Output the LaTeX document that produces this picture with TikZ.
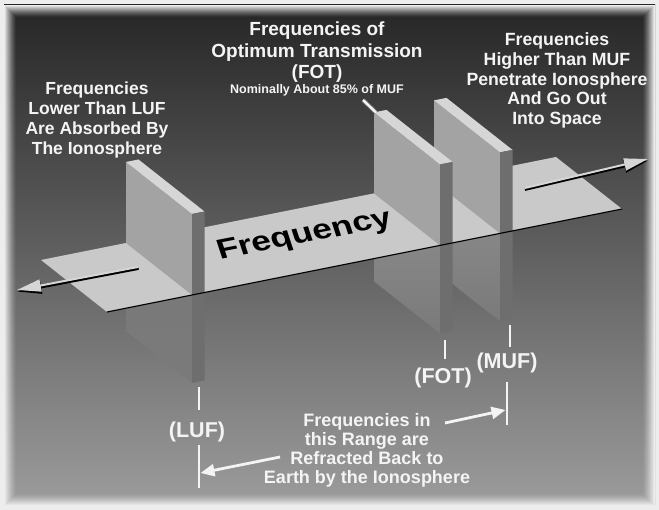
\documentclass[tikz,border=0pt]{standalone}
\usepackage{fontspec}
\setmainfont{Liberation Sans}
\usetikzlibrary{arrows.meta,calc}
\definecolor{outerc}{HTML}{EDEDED}
\definecolor{bgtop}{HTML}{262626}
\definecolor{bgmid}{HTML}{555555}
\definecolor{bgbot}{HTML}{9C9C9C}
\definecolor{floorc}{HTML}{C9C9C9}
\definecolor{facec}{HTML}{A3A3A3}
\definecolor{topc}{HTML}{D6D6D6}
\definecolor{stripc}{HTML}{6E6E6E}
\definecolor{lowtop}{HTML}{8E8E8E}
\definecolor{lowbot}{HTML}{7A7A7A}
\definecolor{txt}{HTML}{F4F4F4}
\tikzset{
  lbl/.style={text=txt, align=center, inner sep=0pt},
  leader/.style={draw=txt, line width=2.8pt},
  leadarrow/.style={leader, -{Triangle[length=14pt,width=12pt]}},
  wallface/.style={fill=facec},
  walltop/.style={fill=topc},
  wallstrip/.style={fill=stripc},
  lowface/.style={top color=lowtop, bottom color=lowbot},
}
\newcommand\wallpts[2]{%
  \pgfmathsetmacro\wpy{312-0.2*(#2-107)}%
  \coordinate (#1P) at (#2,\wpy);
  \coordinate (#1TF) at (#2,\wpy-81);
  \coordinate (#1TB) at (#2-66,\wpy-133);
  \coordinate (#1BB) at (#2-66,\wpy-52);
  \coordinate (#1LB) at (#2-66,\wpy+36);
  \coordinate (#1LF) at (#2,\wpy+88);
  \coordinate (#1TFw) at (#2+12.5,\wpy-83.5);
  \coordinate (#1TBw) at (#2-53.5,\wpy-135.5);
  \coordinate (#1LFw) at (#2+12.5,\wpy+85.5);
}
\newcommand\wallupper[1]{%
  \fill[wallface] (#1TB) -- (#1TF) -- (#1P) -- (#1BB) -- cycle;
  \fill[walltop] (#1TB) -- (#1TF) -- (#1TFw) -- (#1TBw) -- cycle;
  \fill[wallstrip] (#1TF) -- (#1TFw) -- (#1LFw) -- (#1LF) -- cycle;
}
\begin{document}
\begin{tikzpicture}[x=1pt,y=-1pt]
\useasboundingbox (0,0) rectangle (659,510);
\fill[outerc] (0,0) rectangle (659,510);
\shade[top color=bgtop, middle color=bgmid, bottom color=bgbot] (4,5) rectangle (655,506);
\foreach \k in {0,...,11} {
  \pgfmathsetmacro\op{(1-\k/12)^1.3}
  \draw[outerc, opacity=\op, line width=1pt] (4.5+\k,5.5+\k) rectangle (654.5-\k,505.5-\k);
}
% walls geometry
\wallpts{luf}{192}
\wallpts{fot}{440}
\wallpts{muf}{500}
% parts below the floor
\shade[lowface] (mufBB) -- (mufP) -- (mufLF) -- (mufLB) -- cycle;
\shade[lowface] (fotBB) -- (fotP) -- (fotLF) -- (fotLB) -- cycle;
\shade[top color=lowtop!85!black, bottom color=lowbot] (lufBB) -- (lufP) -- (lufLF) -- (lufLB) -- cycle;
% floor
\coordinate (flBL) at (41,260);
\coordinate (flBR) at (556,157);
\coordinate (flFR) at (622,209);
\coordinate (flFL) at (107,312);
\fill[floorc] (flBL) -- (flBR) -- (flFR) -- (flFL) -- cycle;
% walls above floor
\wallupper{muf}
\wallupper{fot}
\wallupper{luf}
\draw[black, line width=1.1pt] (flFL) -- (flFR);
% floor text
\node[font=\bfseries\fontsize{35}{35}\selectfont, rotate=11, yscale=0.8, xslant=-0.1, inner sep=0pt] (freq) at (305,236) {Frequency};
% floor arrows
\coordinate (la1) at (138,267); \coordinate (la2) at (17,290);
\draw[black, line width=2.6pt, -{Triangle[length=24pt,width=13pt]}] ($(la1)+(0.6,1.6)$) -- ($(la2)+(0.6,1.6)$);
\draw[topc, line width=2pt, -{Triangle[length=24pt,width=12pt]}] (la1) -- (la2);
\coordinate (ra1) at (525,188); \coordinate (ra2) at (648,159);
\draw[black, line width=2.6pt, -{Triangle[length=24pt,width=13pt]}] ($(ra1)+(0,1.6)$) -- ($(ra2)+(0,1.6)$);
\draw[topc, line width=2pt, -{Triangle[length=24pt,width=12pt]}] (ra1) -- (ra2);
% top labels
\node[lbl, anchor=north, font=\bfseries\fontsize{17.5}{20}\selectfont] (lownote) at (97,81.5) {Frequencies\\Lower Than LUF\\Are Absorbed By\\The Ionosphere};
\node[lbl, anchor=north, font=\bfseries\fontsize{19}{21.5}\selectfont] (fotnote) at (317,22) {Frequencies of\\Optimum Transmission\\(FOT)};
\node[lbl, font=\bfseries\fontsize{12.5}{14}\selectfont] (nominal) at (317,90) {Nominally About 85\% of MUF};
\node[lbl, anchor=north, font=\bfseries\fontsize{17.7}{19.8}\selectfont] (highnote) at (557,32.5) {Frequencies\\Higher Than MUF\\Penetrate Ionosphere\\And Go Out\\Into Space};
\node[lbl, anchor=north, font=\bfseries\fontsize{18}{19}\selectfont] (range) at (367,413.5) {Frequencies in\\this Range are\\Refracted Back to\\Earth by the Ionosphere};
% FOT leader to wall
\coordinate (nl1) at (363,100); \coordinate (nl2) at (376,112.5);
\draw[black!55, line width=4.2pt] (nl1) -- (nl2);
\draw[txt, line width=2.4pt] (nl1) -- (nl2);
% bottom labels
\node[lbl, font=\bfseries\fontsize{21.5}{24}\selectfont] (luf) at (197,432) {(LUF)};
\node[lbl, font=\bfseries\fontsize{21.5}{24}\selectfont] (fot) at (443,378) {(FOT)};
\node[lbl, font=\bfseries\fontsize{21.5}{24}\selectfont] (muf) at (507,363) {(MUF)};
\coordinate (lufa) at (199,387); \coordinate (lufb) at (199,410);
\coordinate (lufc) at (199,445); \coordinate (lufd) at (199,488);
\coordinate (fota) at (445,340); \coordinate (fotb) at (445,359);
\coordinate (mufa) at (510,325); \coordinate (mufb) at (510,347);
\coordinate (mufc) at (507,382); \coordinate (mufd) at (507,425);
\draw[leader] (lufa) -- (lufb);
\draw[leader] (lufc) -- (lufd);
\draw[leader] (fota) -- (fotb);
\draw[leader] (mufa) -- (mufb);
\draw[leader] (mufc) -- (mufd);
\coordinate (arl1) at (280,457); \coordinate (arl2) at (200.5,473);
\coordinate (arm1) at (445,423); \coordinate (arm2) at (505.5,410);
\draw[leadarrow] (arl1) -- (arl2);
\draw[leadarrow] (arm1) -- (arm2);
\end{tikzpicture}
\end{document}
